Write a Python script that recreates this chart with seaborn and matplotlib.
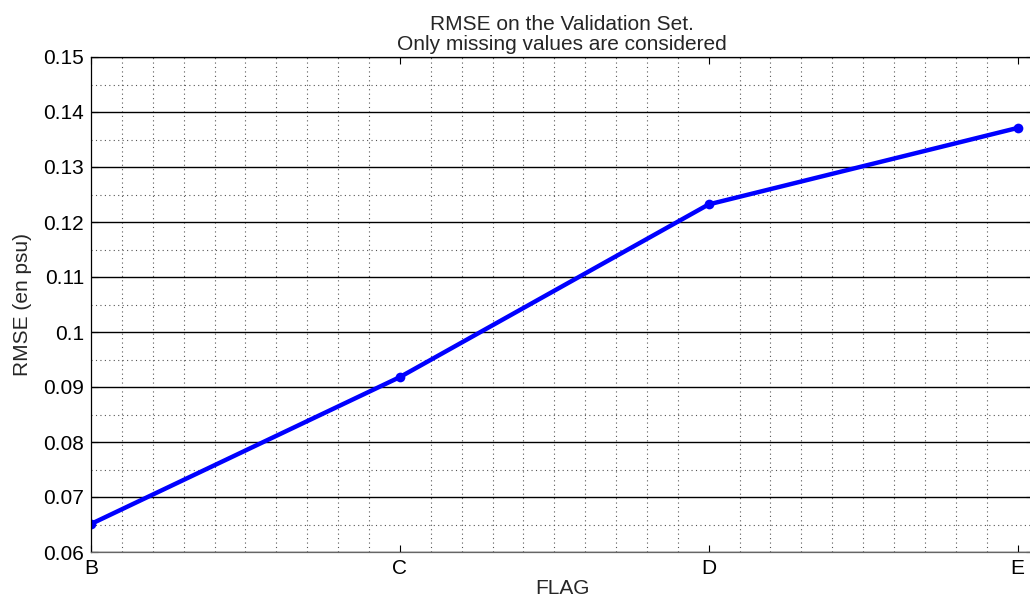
import pandas as pd
import matplotlib
matplotlib.use('Agg')
import matplotlib.pyplot as plt
from matplotlib.ticker import MultipleLocator
import seaborn as sns

# values
flags = ['B', 'C', 'D', 'E']
rmse = [0.0651, 0.0918, 0.1232, 0.1371]
y_ticks = [0.06, 0.07, 0.08, 0.09, 0.1, 0.11, 0.12, 0.13, 0.14, 0.15]
y_tick_labels = ['0.06', '0.07', '0.08', '0.09', '0.1', '0.11', '0.12', '0.13', '0.14', '0.15']

df = pd.DataFrame({'flag': flags, 'rmse': rmse})

sns.set_style('ticks')
plt.rcParams['font.family'] = ['Liberation Sans', 'DejaVu Sans']

fig = plt.figure(figsize=(10.30, 5.98), dpi=100)
# axes run past the right edge of the picture, like the cropped original
ax = fig.add_axes([91 / 1030, 46 / 598, 942 / 1030, 495 / 598])

sns.lineplot(data=df, x='flag', y='rmse', ax=ax, color='#0000ff', linewidth=3.2,
             marker='o', markersize=7, markeredgewidth=0, sort=False)

ax.set_xlim(0, 3.05)
ax.set_ylim(0.06, 0.15)
ax.set_yticks(y_ticks)
ax.set_yticklabels(y_tick_labels)
ax.xaxis.set_minor_locator(MultipleLocator(0.1))
ax.yaxis.set_minor_locator(MultipleLocator(0.005))

# grid in the MATLAB way: solid major y lines, dotted minor lines
ax.yaxis.grid(True, which='major', color='black', linestyle='-', linewidth=1.0)
ax.yaxis.grid(True, which='minor', color='#555555', linestyle=(0, (1, 3)), linewidth=0.8)
ax.xaxis.grid(True, which='minor', color='#555555', linestyle=(0, (1, 3)), linewidth=0.8)
ax.xaxis.grid(False, which='major')
ax.set_axisbelow(True)

ax.tick_params(which='major', direction='in', length=5, width=0.8, top=True, right=True,
               labelsize=15, colors='black', pad=5)
ax.tick_params(which='minor', length=0)
for s in ax.spines.values():
    s.set_color('black')
    s.set_linewidth(0.9)
ax.spines['bottom'].set_color('#666666')

ax.set_title('RMSE on the Validation Set.\nOnly missing values are considered',
             fontsize=15, linespacing=1.1, pad=5)
ax.set_xlabel('FLAG', fontsize=15, labelpad=1)
ax.set_ylabel('RMSE (en psu)', fontsize=15, labelpad=8)

fig.savefig('out.png', dpi=100, facecolor='white')
